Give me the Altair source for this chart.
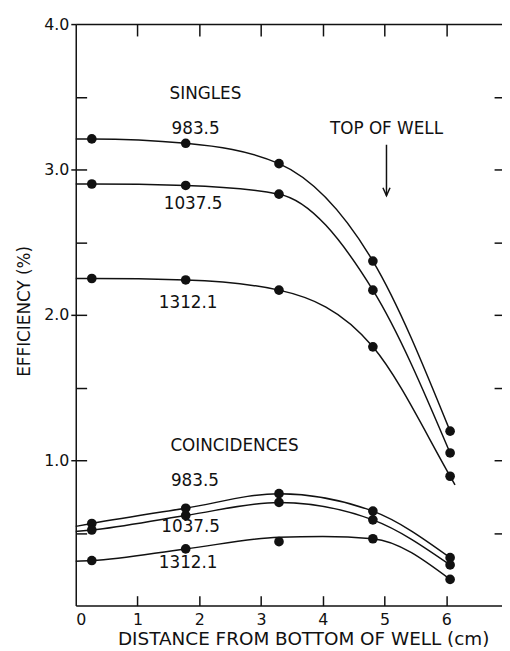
import altair as alt
import pandas as pd

# ---- data ----
series = ["S983.5", "S1037.5", "S1312.1", "C983.5", "C1037.5", "C1312.1"]

# measured points (distance, efficiency %)
pt_x = [0.26, 1.78, 3.29, 4.81, 6.06]
pt_s983 = [3.21, 3.18, 3.04, 2.37, 1.20]
pt_s1037 = [2.90, 2.89, 2.83, 2.17, 1.05]
pt_s1312 = [2.25, 2.24, 2.17, 1.78, 0.89]
pt_c983 = [0.565, 0.67, 0.77, 0.65, 0.33]
pt_c1037 = [0.52, 0.62, 0.71, 0.59, 0.28]
pt_c1312 = [0.31, 0.39, 0.44, 0.46, 0.18]

# hand-drawn smooth curves
cv_s983_x = [0, 0.26, 1.78, 3.29, 4.81, 6.06]
cv_s983_y = [3.21, 3.21, 3.18, 3.04, 2.37, 1.20]
cv_s1037_x = [0, 0.26, 1.78, 3.29, 4.81, 6.06]
cv_s1037_y = [2.90, 2.90, 2.89, 2.83, 2.17, 1.05]
cv_s1312_x = [0, 0.26, 1.78, 3.29, 4.81, 6.06, 6.14]
cv_s1312_y = [2.25, 2.25, 2.24, 2.17, 1.78, 0.89, 0.83]
cv_c983_x = [0, 0.26, 1.78, 3.29, 4.81, 6.06]
cv_c983_y = [0.545, 0.565, 0.67, 0.77, 0.65, 0.33]
cv_c1037_x = [0, 0.26, 1.78, 3.29, 4.81, 6.06]
cv_c1037_y = [0.51, 0.52, 0.62, 0.71, 0.59, 0.28]
cv_c1312_x = [0, 0.26, 1.78, 3.29, 4.0, 4.81, 6.06]
cv_c1312_y = [0.305, 0.31, 0.39, 0.47, 0.475, 0.46, 0.18]

# annotations
lab_text = ["SINGLES", "983.5", "1037.5", "1312.1", "TOP OF WELL",
            "COINCIDENCES", "983.5", "1037.5", "1312.1"]
lab_x = [2.1, 1.94, 1.9, 1.82, 5.03, 2.57, 1.93, 1.86, 1.82]
lab_y = [3.52, 3.28, 2.76, 2.08, 3.28, 1.10, 0.86, 0.54, 0.29]

arrow_x = [5.03]
arrow_top = [3.17]
arrow_tip = [2.82]

x_ticks = [1, 2, 3, 4, 5, 6]
x_labels = [0, 1, 2, 3, 4, 5, 6]
y_labels = [1, 2, 3, 4]
y_minor = [0.5, 1, 1.5, 2, 2.5, 3, 3.5]

# ---- tables ----
pts_all = [pt_s983, pt_s1037, pt_s1312, pt_c983, pt_c1037, pt_c1312]
pts_df = pd.DataFrame([
    {"series": s, "x": x, "y": y}
    for s, ys in zip(series, pts_all) for x, y in zip(pt_x, ys)
])
cv_all = [(cv_s983_x, cv_s983_y), (cv_s1037_x, cv_s1037_y), (cv_s1312_x, cv_s1312_y),
          (cv_c983_x, cv_c983_y), (cv_c1037_x, cv_c1037_y), (cv_c1312_x, cv_c1312_y)]
cv_df = pd.DataFrame([
    {"series": s, "x": x, "y": y, "order": i}
    for s, (xs, ys) in zip(series, cv_all) for i, (x, y) in enumerate(zip(xs, ys))
])
lab_df = pd.DataFrame({"text": lab_text, "x": lab_x, "y": lab_y})
arrow_df = pd.DataFrame({"x": arrow_x, "y": arrow_top, "y2": arrow_tip})

FONT = "DejaVu Sans"
INK = "#111111"
xs = alt.Scale(domain=[0, 6.9], nice=False, zero=False)
ys = alt.Scale(domain=[0, 4], nice=False, zero=False)

lines = alt.Chart(cv_df).mark_line(interpolate="monotone", color=INK, strokeWidth=1.5).encode(
    x=alt.X("x:Q", scale=xs, axis=alt.Axis(
        orient="bottom", values=x_labels, format="d", ticks=False, domain=True,
        domainColor=INK, domainWidth=1.5, labelFont=FONT, labelFontSize=16,
        labelColor=INK, labelPadding=6, grid=False,
        title="DISTANCE FROM BOTTOM OF WELL (cm)", titleFont=FONT, titleFontSize=18.6,
        titleFontWeight="normal", titleColor=INK, titlePadding=2, titleX=230)),
    y=alt.Y("y:Q", scale=ys, axis=alt.Axis(
        orient="left", values=y_labels, format=".1f", ticks=True, tickSize=5,
        tickColor=INK, tickWidth=1.5, domain=True, domainColor=INK, domainWidth=1.5,
        labelFont=FONT, labelFontSize=16, labelColor=INK, labelPadding=2, grid=False,
        title="EFFICIENCY (%)", titleFont=FONT, titleFontSize=17,
        titleFontWeight="normal", titleColor=INK, titlePadding=10, titleY=290)),
    detail="series:N",
    order="order:Q",
)

points = alt.Chart(pts_df).mark_circle(size=95, color=INK, opacity=1).encode(
    x=alt.X("x:Q", scale=xs, axis=alt.Axis(
        orient="bottom", offset=-10, tickSize=10, values=x_ticks, labels=False,
        domain=False, grid=False, tickColor=INK, tickWidth=1.5, title=None)),
    y=alt.Y("y:Q", scale=ys, axis=alt.Axis(
        orient="left", offset=-11, tickSize=11, values=y_minor, labels=False,
        domain=False, grid=False, tickColor=INK, tickWidth=1.5, title=None)),
    detail="series:N",
)

labels = alt.Chart(lab_df).mark_text(font=FONT, fontSize=17, color=INK).encode(
    x=alt.X("x:Q", scale=xs, axis=alt.Axis(
        orient="top", ticks=False, labels=False, domain=True, domainColor=INK,
        domainWidth=1.5, grid=False, title=None)),
    y=alt.Y("y:Q", scale=ys, axis=alt.Axis(
        orient="right", offset=-8, tickSize=8, values=y_minor, labels=False,
        domain=False, grid=False, tickColor=INK, tickWidth=1.5, title=None)),
    text="text:N",
)

arrow = alt.Chart(arrow_df).mark_rule(color=INK, strokeWidth=1.5).encode(
    x=alt.X("x:Q", scale=xs, axis=alt.Axis(
        orient="top", offset=-12, tickSize=12, values=x_ticks, labels=False,
        domain=False, grid=False, tickColor=INK, tickWidth=1.5, title=None)),
    y=alt.Y("y:Q", scale=ys, axis=None),
    y2="y2:Q",
)

head = alt.Chart(arrow_df).mark_point(
    shape="M -0.45 -1 L 0 0 L 0.45 -1", size=256, filled=False,
    color=INK, strokeWidth=1.5, opacity=1,
).encode(
    x=alt.X("x:Q", scale=xs, axis=None),
    y=alt.Y("y2:Q", scale=ys, axis=None),
)

chart = alt.layer(lines, points, labels, arrow, head).resolve_axis(
    x="independent", y="independent"
).properties(
    width=431, height=588,
    autosize=alt.AutoSizeParams(type="none"),
    padding={"left": 68.5, "top": 12.7, "right": 0, "bottom": 40},
    background="white",
).configure_view(stroke=None)

chart.save("out.html", embed_options={"renderer": "svg", "actions": False})
